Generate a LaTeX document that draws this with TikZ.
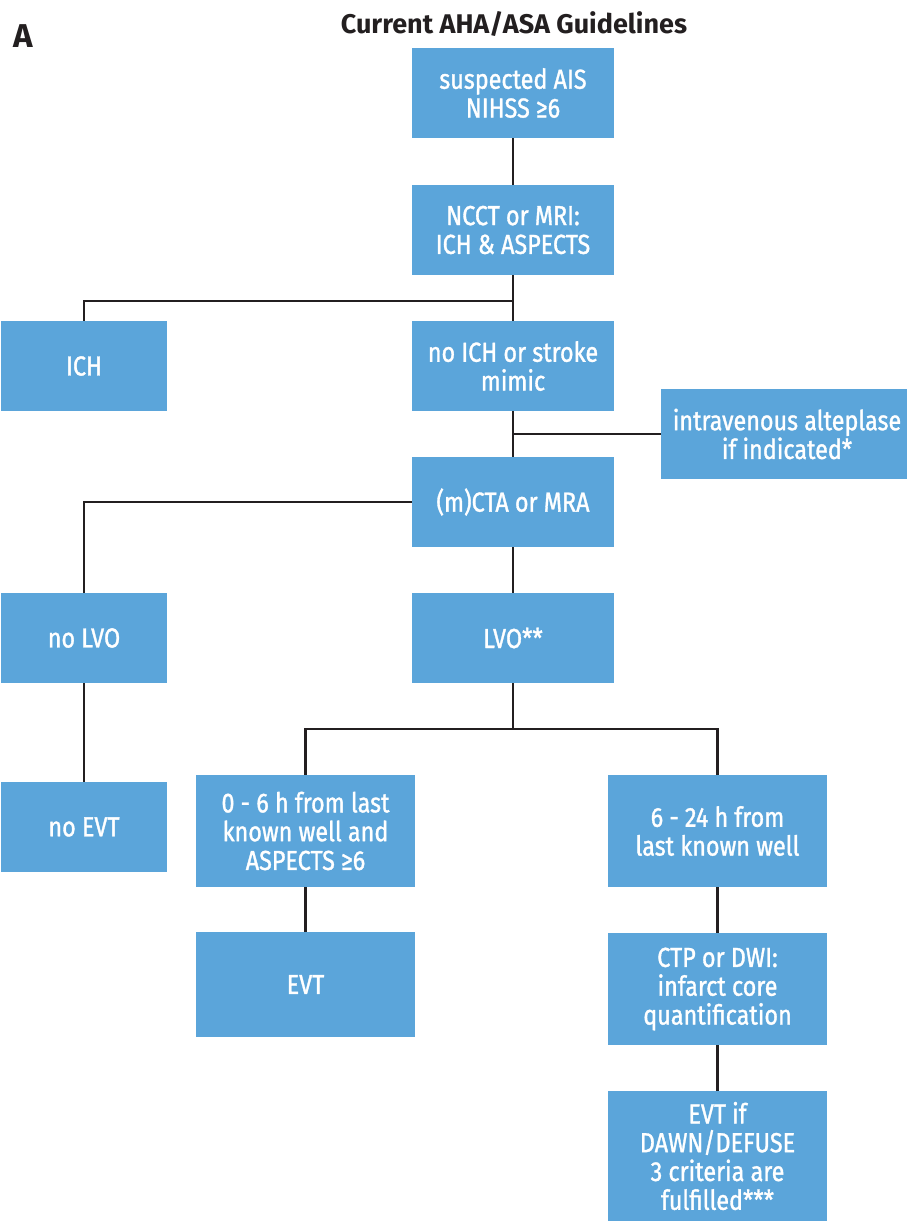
\documentclass[tikz,border=0pt]{standalone}
\usepackage{fontspec}
\setmainfont{Fira Sans}
\newfontfamily\boxfont[FakeStretch=0.85,FakeBold=1.2]{Fira Sans}
\usepackage{tikz}
\usetikzlibrary{calc}
\definecolor{boxblue}{RGB}{91,165,218}
\definecolor{linegray}{RGB}{35,31,32}

\tikzset{
	stepbox/.style={rectangle, fill=boxblue, text=white, align=center, inner sep=0pt,
		font=\boxfont\fontsize{27.5}{28.8}\selectfont},
	smallbox/.style={stepbox, minimum width=166pt, minimum height=90pt},
	midbox/.style={stepbox, minimum width=202pt, minimum height=90pt},
	widebox/.style={stepbox, minimum width=219pt, minimum height=112pt},
	link/.style={draw=linegray, line width=2.8pt}
}

\begin{document}
\begin{tikzpicture}[x=1pt,y=-1pt]
	\useasboundingbox (0,0) rectangle (908,1223);
	\node[font=\fontsize{33}{36}\selectfont\bfseries, text=linegray] (panel) at (23,36) {A};
	\node[font=\fontsize{27}{30}\selectfont\bfseries, text=linegray] (title) at (514,24) {Current AHA/ASA Guidelines};

	\begin{scope}
	\node[midbox] (ais) at (513,93) {suspected AIS\\NIHSS ≥6};
	\node[midbox] (ncct) at (513,230) {NCCT or MRI:\\ICH \& ASPECTS};
	\node[smallbox] (ich) at (84,366) {ICH};
	\node[midbox] (noich) at (513,366) {no ICH or stroke\\mimic};
	\node[stepbox, minimum width=246pt, minimum height=90pt] (alte) at (784,434) {\hspace*{6pt}intravenous alteplase\\\hspace*{6pt}if indicated*};
	\node[midbox] (cta) at (513,502) {(m)CTA or MRA};
	\node[smallbox] (nolvo) at (84,638) {no LVO};
	\node[midbox] (lvo) at (513,638) {LVO**};
	\node[smallbox] (noevt) at (84,827) {no EVT};
	\node[widebox] (early) at (305.5,831) {0 - 6 h from last\\known well and\\ASPECTS ≥6};
	\node[widebox] (late) at (717.5,831) {6 - 24 h from\\last known well};
	\node[widebox, minimum height=105pt] (evt) at (305.5,984.5) {EVT};
	\node[widebox] (ctp) at (717.5,989) {CTP or DWI:\\infarct core\\quantification};
	\node[widebox, minimum height=130pt] (dawn) at (717.5,1156) {EVT if\\DAWN/DEFUSE\\3 criteria are\\fulfilled***};
	\end{scope}

	\begin{scope}[every edge/.style={link}]
	\coordinate (splitich) at (513,301);
	\coordinate (splitiv) at (513,434);
	\coordinate (splitlvo) at (513,729);
	\path (ais) edge (ncct);
	\path (ncct) edge (noich);
	\path (noich) edge (cta);
	\path (cta) edge (lvo);
	\path (nolvo) edge (noevt);
	\path (early) edge (evt);
	\path (late) edge (ctp);
	\path (ctp) edge (dawn);
	\path (lvo.south) edge (splitlvo);
	\draw[link] (splitich) -| (ich.north);
	\draw[link] (splitiv) -- (alte.west);
	\draw[link] (cta.west) -| (nolvo.north);
	\draw[link] (early.north) |- (splitlvo) -| (late.north);
	\end{scope}
\end{tikzpicture}
\end{document}
